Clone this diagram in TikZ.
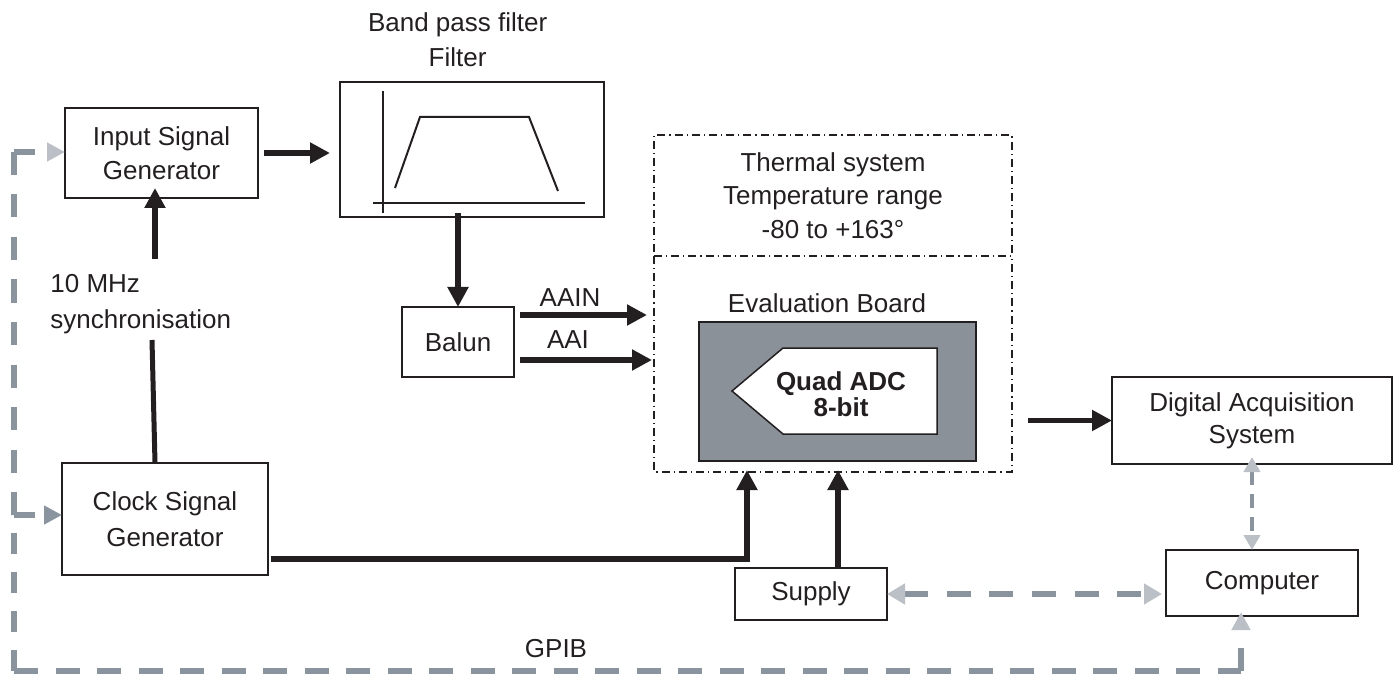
\documentclass[tikz,border=0pt]{standalone}
\usepackage{fontspec}
\setmainfont{Liberation Sans}
\usetikzlibrary{arrows.meta,calc}
\definecolor{gline}{RGB}{138,148,158}
\definecolor{glight}{RGB}{186,192,198}
\definecolor{board}{RGB}{138,145,152}
\definecolor{ink}{RGB}{35,31,32}
\begin{document}
\begin{tikzpicture}[x=0.5pt,y=-0.5pt,
  txt/.style={font=\fontsize{13}{17}\selectfont, text=ink, align=center, inner sep=0pt},
  box/.style={txt, draw=ink, line width=1pt, outer sep=0pt},
  ddline/.style={draw=ink, line width=0.75pt, dash pattern=on 4pt off 2pt on 0.6pt off 2pt},
  dd/.style={ddline, outer sep=0pt, inner sep=0pt},
  conn/.style={draw=ink, line width=2.8pt, -{Triangle[length=10pt,width=10pt]}},
  plainline/.style={draw=ink, line width=2.5pt},
  gpib/.style={draw=gline, line width=2.6pt},
  ltip/.style={-{Triangle[length=9pt,width=9pt,color=glight]}},
  dtip/.style={-{Triangle[length=9pt,width=9pt,color=gline]}},
  graph/.style={draw=ink, line width=1pt},
]
\useasboundingbox (0,0) rectangle (1397,679);

% boxes
\node[box, minimum width=96.5pt, minimum height=45pt] (input) at (161.5,153) {Input Signal\\Generator};
\node[box, minimum width=132pt, minimum height=67.5pt] (filter) at (472,149.5) {};
\node[txt, font=\fontsize{13}{17.5}\selectfont] (bpf) at (457.6,39.5) {Band pass filter\\Filter};
\node[box, minimum width=56pt, minimum height=35pt] (balun) at (458,342) {Balun};
\node[box, minimum width=103pt, minimum height=56pt, font=\fontsize{13}{18}\selectfont] (clock) at (165,519) {Clock Signal\\Generator};
\node[txt, align=left, anchor=west, font=\fontsize{13}{18}\selectfont] (sync) at (50,304) {10 MHz\\synchronisation};

\node[dd, txt, minimum width=179pt, minimum height=60.5pt, font=\fontsize{13}{16.75}\selectfont] (thermal) at (833,195.5) {Thermal system\\Temperature range\\-80 to +163°};
\node[outer sep=0pt, inner sep=0pt, minimum width=179pt, minimum height=108pt] (eval) at (833,364) {};
\draw[ddline] (eval.north west) -- (eval.south west) -- (eval.south east) -- (eval.north east);
\node[txt] (evlabel) at (827,303) {Evaluation Board};
\node[draw=ink, line width=0.75pt, fill=board, minimum width=138.5pt, minimum height=69.5pt, inner sep=0pt, outer sep=0pt] (pcb) at (837.5,391.5) {};
\draw[draw=ink, line width=0.75pt, fill=white] (732,391) -- (783,348) -- (937,348) -- (937,434) -- (783,434) -- cycle;
\node[txt, font=\fontsize{13}{13}\selectfont\bfseries] (adc) at (841,394) {Quad ADC\\8-bit};

\node[box, minimum width=140pt, minimum height=43.5pt, font=\fontsize{13}{16}\selectfont] (das) at (1252,420.5) {Digital Acquisition\\System};
\node[box, minimum width=96pt, minimum height=33pt] (computer) at (1262,583) {Computer};
\node[box, minimum width=76pt, minimum height=26pt] (supply) at (811,594) {Supply};

% labels
\node[txt] (aain) at (570,298) {AAIN};
\node[txt] (aai) at (568,340) {AAI};
\node[txt] (gpiblabel) at (556,649) {GPIB};

% filter graph
\draw[graph] (382.6,91) -- (382.6,213);
\draw[graph] (373,203) -- (585,203);
\draw[graph] (395,188) -- (420,117) -- (529,117) -- (558,191);

% black connectors
\draw[conn, shorten <=3pt, shorten >=5pt] (input.east) -- (input.east -| filter.west);
\coordinate (s1) at (152,340);
\coordinate (s2) at (155,259);
\draw[plainline] (clock.north -| s2) -- (s1);
\draw[conn, shorten >=-5pt] (s2) -- (s2 |- input.south);
\draw[conn, shorten <=-2pt] (balun.north |- filter.south) -- (balun.north);
\draw[conn, shorten <=3pt, shorten >=3.5pt] ([yshift=13.5pt]balun.east) -- ([yshift=13.5pt]balun.east -| eval.west);
\draw[conn, shorten <=3pt, shorten >=1pt] ([yshift=-9pt]balun.east) -- ([yshift=-9pt]balun.east -| eval.west);
\draw[conn, shorten <=1.5pt, shorten >=-1pt] ([yshift=-20pt]clock.east) -| ([xshift=-43pt]eval.south);
\draw[conn, shorten >=-1pt] ([xshift=13.5pt]supply.north) -- ([xshift=13.5pt]supply.north |- eval.south);
\draw[conn, shorten <=8pt] (das.west -| eval.east) -- (das.west);

% gray dashed connectors
\coordinate (gTL) at (14,152);
\coordinate (gJ) at (14,515);
\coordinate (gBL) at (14,671);
\coordinate (gBR) at (1241,671);
\draw[gpib, ltip, dash pattern=on 10.5pt off 9pt] (gTL) -- (gTL -| input.west);
\draw[gpib, dash pattern=on 11.5pt off 9.75pt] (gTL) -- (gJ);
\draw[gpib, dash pattern=on 10.5pt off 9pt] (gBL) -- (gJ);
\draw[gpib, dtip, dash pattern=on 10.5pt off 9pt] (gJ) -- (gJ -| clock.west);
\draw[gpib, dash pattern=on 12pt off 8.75pt] (gBL) -- (gBR);
\draw[gpib, ltip, dash pattern=on 11.5pt off 9pt, shorten >=-2pt] (gBR) -- (gBR |- computer.south);
\draw[gpib, dash pattern=on 12pt off 9.35pt, {Triangle[length=9pt,width=10pt,color=glight]}-{Triangle[length=9pt,width=10pt,color=glight]}, shorten >=2pt] (supply.east) -- (supply.east -| computer.west);
\draw[gpib, line width=2.3pt, dash pattern=on 7pt off 4.5pt, {Triangle[length=7.5pt,width=8pt,color=glight]}-{Triangle[length=7.5pt,width=8pt,color=glight]}, shorten <=-3.5pt] (das.south) -- (das.south |- computer.north);
\end{tikzpicture}
\end{document}
